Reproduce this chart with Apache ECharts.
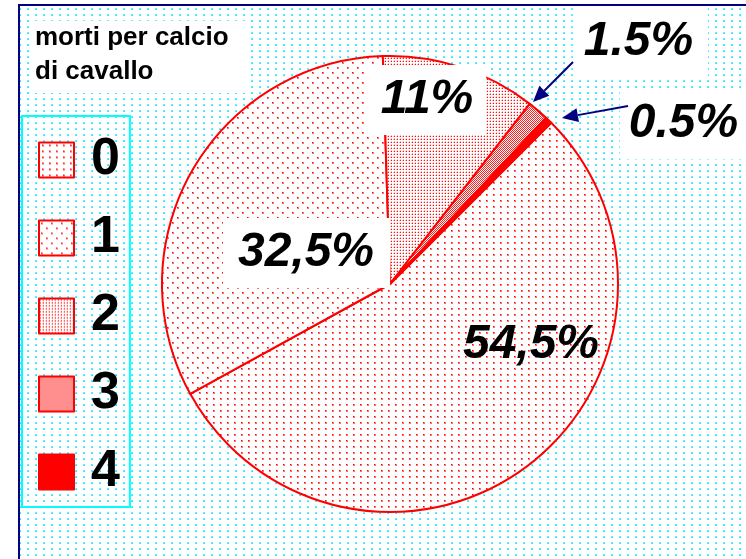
<!DOCTYPE html>
<html>
<head>
<meta charset="utf-8">
<title>morti per calcio di cavallo</title>
<script src="https://cdn.jsdelivr.net/npm/echarts@6/dist/echarts.min.js"></script>
<style>
    html, body { margin: 0; padding: 0; background: #fff; }
    #main { width: 746px; height: 559px; }
</style>
</head>
<body>
<div id="main"></div>
<script>
// dati: numero di morti per calcio di cavallo
var names = ['0', '1', '2', '3', '4'];
var values = [54.5, 32.5, 11, 1.5, 0.5];
var labelTexts = ['54,5%', '32,5%', '11%', '1.5%', '0.5%'];

// posizione delle etichette (centro del riquadro) e margini del riquadro bianco
var labelPos = [[531, 345], [306.5, 253], [426.5, 100], [640.5, 42], [689, 124]];
var labelPad = [[0, 0, 0, 0], [12, 16, 10, 15], [11, 13, 11, 14], [22, 15, 1, 11], [17, 20, 6, 9]];
var labelBg = ['transparent', '#fff', '#fff', '#fff', '#fff'];

// frecce: [x inizio, y inizio, x punta, y punta]
var arrows = [[573, 62, 533, 102], [628, 106, 562, 118]];

// crea una trama a puntini su un piccolo canvas: dots = [x, y, lato, colore]
function makePattern(w, h, dots) {
    var c = document.createElement('canvas');
    c.width = w;
    c.height = h;
    var ctx = c.getContext('2d');
    ctx.fillStyle = '#fff';
    ctx.fillRect(0, 0, w, h);
    dots.forEach(function (d) {
        ctx.fillStyle = d[3];
        ctx.fillRect(d[0], d[1], d[2], d[2]);
    });
    return {image: c, repeat: 'repeat'};
}

var bgPattern = makePattern(8, 6, [[3, 2, 2, '#5cf2ff'], [4, 3, 1, '#00e8ff']]);
var sliceColors = [
    makePattern(7, 6, [[3, 2, 2, '#ff7070'], [3, 2, 1, '#ff0000']]),
    makePattern(10, 10, [[2, 2, 2, '#ff7070'], [2, 2, 1, '#ff0000'], [7, 7, 2, '#ff7070'], [7, 7, 1, '#ff0000']]),
    makePattern(3, 3, [[1, 1, 1, '#ff1010'], [0, 1, 1, '#ffb8b8'], [1, 0, 1, '#ffb8b8']]),
    makePattern(2, 2, [[0, 0, 1, '#ff2020'], [1, 1, 1, '#ff2020']]),
    '#ff0000'
];

function arrowGraphics() {
    var list = [];
    arrows.forEach(function (a) {
        var dx = a[2] - a[0], dy = a[3] - a[1];
        var len = Math.sqrt(dx * dx + dy * dy);
        var ux = dx / len, uy = dy / len;
        var hl = 16, hw = 7;
        var bx = a[2] - ux * hl, by = a[3] - uy * hl;
        list.push({
            type: 'polyline',
            z: 100,
            silent: true,
            shape: {points: [[a[0], a[1]], [bx, by]]},
            style: {stroke: '#000080', lineWidth: 2, fill: null}
        });
        list.push({
            type: 'polygon',
            z: 100,
            silent: true,
            shape: {points: [[a[2], a[3]], [bx - uy * hw, by + ux * hw], [bx + uy * hw, by - ux * hw]]},
            style: {fill: '#000080'}
        });
    });
    return list;
}

var chart = echarts.init(document.getElementById('main'), null, {renderer: 'canvas'});

chart.setOption({
    animation: false,
    backgroundColor: '#fff',
    title: {
        text: 'morti per calcio\ndi cavallo',
        left: 30,
        top: 21,
        padding: [0, 20, 4, 5],
        backgroundColor: '#fff',
        textStyle: {
            fontFamily: 'Liberation Sans',
            fontWeight: 'bold',
            fontSize: 26,
            lineHeight: 34,
            color: '#000'
        },
        z: 20
    },
    legend: {
        orient: 'vertical',
        left: 22,
        top: 116,
        padding: [18, 10, 9, 16],
        borderColor: '#00ffff',
        borderWidth: 2,
        itemWidth: 35,
        itemHeight: 35,
        itemGap: 26,
        icon: 'rect',
        selectedMode: false,
        data: names,
        textStyle: {
            fontFamily: 'Liberation Sans',
            fontWeight: 'bold',
            fontSize: 52,
            color: '#000',
            padding: [0, 0, 0, 12]
        }
    },
    graphic: [
        {
            type: 'rect',
            z: -10,
            silent: true,
            shape: {x: 20, y: 6, width: 726, height: 553},
            style: {fill: bgPattern}
        },
        {
            type: 'line',
            z: 50,
            silent: true,
            shape: {x1: 18, y1: 5, x2: 746, y2: 5},
            style: {stroke: '#000080', lineWidth: 2}
        },
        {
            type: 'line',
            z: 50,
            silent: true,
            shape: {x1: 19, y1: 4, x2: 19, y2: 559},
            style: {stroke: '#000080', lineWidth: 2}
        }
    ].concat(arrowGraphics()),
    series: [{
        name: 'morti per calcio di cavallo',
        type: 'pie',
        center: [390, 284],
        radius: 228,
        startAngle: 45,
        clockwise: true,
        silent: true,
        emphasis: {disabled: true},
        itemStyle: {
            borderColor: '#ff0000',
            borderWidth: 2
        },
        label: {
            show: true,
            position: 'inside',
            fontFamily: 'Liberation Sans',
            fontWeight: 'bold',
            fontStyle: 'italic',
            fontSize: 48,
            lineHeight: 48,
            color: '#000',
            formatter: function (p) {
                return labelTexts[p.dataIndex];
            }
        },
        labelLine: {show: false},
        labelLayout: function (params) {
            var p = labelPos[params.dataIndex];
            return {x: p[0], y: p[1], align: 'center', verticalAlign: 'middle', hideOverlap: false};
        },
        data: names.map(function (n, i) {
            return {
                name: n,
                value: values[i],
                itemStyle: {color: sliceColors[i]},
                label: {backgroundColor: labelBg[i], padding: labelPad[i]}
            };
        })
    }]
});
</script>
</body>
</html>
